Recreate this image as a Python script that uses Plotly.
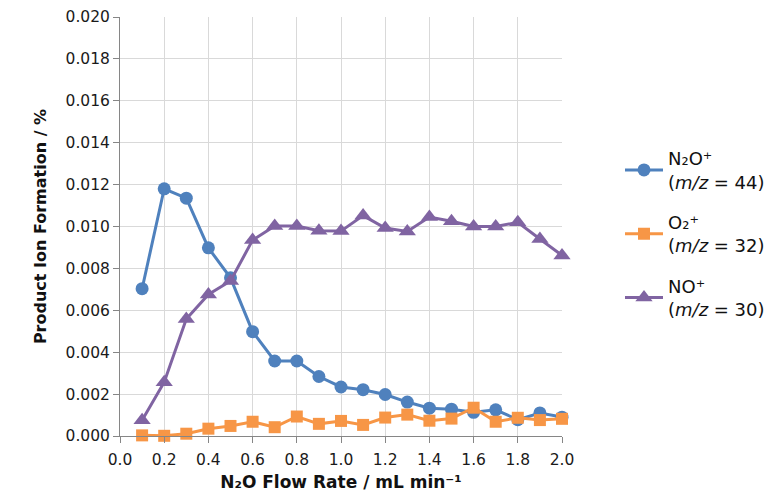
import plotly.graph_objects as go

flow = [0.1, 0.2, 0.3, 0.4, 0.5, 0.6, 0.7, 0.8, 0.9, 1.0,
        1.1, 1.2, 1.3, 1.4, 1.5, 1.6, 1.7, 1.8, 1.9, 2.0]
n2o = [0.00703, 0.01180, 0.01135, 0.00898, 0.00755, 0.00498, 0.00358, 0.00358, 0.00284, 0.00234,
       0.00221, 0.00198, 0.00162, 0.00133, 0.00128, 0.00113, 0.00125, 0.00078, 0.00110, 0.00090]
o2 = [0.00003, 0.00001, 0.00011, 0.00035, 0.00048, 0.00068, 0.00042, 0.00093, 0.00058, 0.00072,
      0.00053, 0.00088, 0.00102, 0.00073, 0.00083, 0.00135, 0.00068, 0.00087, 0.00076, 0.00082]
no = [0.00075, 0.00257, 0.00558, 0.00676, 0.00740, 0.00935, 0.01002, 0.01002, 0.00980, 0.00978,
      0.01052, 0.00993, 0.00976, 0.01045, 0.01025, 0.01000, 0.01000, 0.01020, 0.00940, 0.00862]

names = ["N₂O⁺<br>(<i>m/z</i> = 44)", "O₂⁺<br>(<i>m/z</i> = 32)", "NO⁺<br>(<i>m/z</i> = 30)"]
colors = ["#4F81BD", "#F79646", "#8064A2"]
symbols = ["circle", "square", "triangle-up"]
sizes = [13, 12, 15]
series = [n2o, o2, no]

FONT = "DejaVu Sans"

fig = go.Figure()
for i, ys in enumerate(series):
    fig.add_trace(go.Scatter(
        x=flow, y=ys, name=names[i], mode="lines+markers",
        line=dict(color=colors[i], width=3),
        marker=dict(symbol=symbols[i], size=sizes[i], color=colors[i]),
        legendgroup=f"g{i}", cliponaxis=False,
    ))

axis_common = dict(
    showline=True, linecolor="#868686", linewidth=1,
    ticks="outside", ticklen=6, tickcolor="#868686",
    showgrid=True, gridcolor="#D9D9D9", gridwidth=1,
    zeroline=False, tickfont=dict(size=15.5, color="#1a1a1a"),
    automargin=False,
)

# plot area spans 120..562 px horizontally; legend sits inside the paper to its right
PAPER_W = 770 - 120 - 0
dom_end = 442 / PAPER_W

fig.update_layout(
    width=770, height=495,
    margin=dict(l=120, r=0, t=17, b=59),
    paper_bgcolor="white", plot_bgcolor="white",
    font=dict(family=FONT, color="#111111"),
    xaxis=dict(range=[0, 2.0], dtick=0.2, tickformat=".1f", domain=[0, dom_end],
               ticklabelstandoff=3,
               title=dict(text="<b>N₂O Flow Rate / mL min⁻¹</b>", font=dict(size=17), standoff=8),
               **axis_common),
    yaxis=dict(range=[0, 0.020], dtick=0.002, tickformat=".3f",
               title=dict(text="<b>Product Ion Formation / %</b>", font=dict(size=16), standoff=14),
               **axis_common),
    legend=dict(x=1.0, xanchor="right", y=0.482, yanchor="middle",
                font=dict(size=18, color="#111111"), tracegroupgap=14,
                itemwidth=38, bgcolor="rgba(0,0,0,0)"),
    showlegend=True,
)

fig.write_html("out.html")
